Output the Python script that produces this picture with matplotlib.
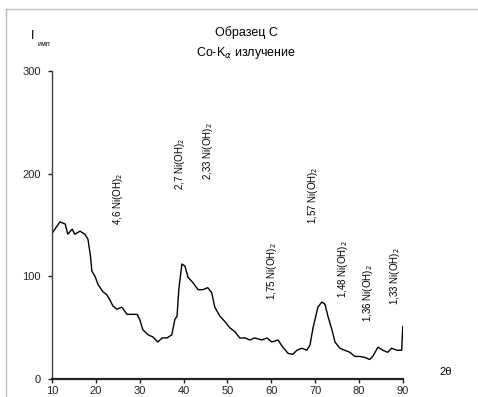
import matplotlib
matplotlib.use("Agg")
import matplotlib.pyplot as plt
from matplotlib.lines import Line2D

plt.rcParams['font.family'] = ['Liberation Sans', 'DejaVu Sans']

two_theta = [10.2, 11.8, 13.0, 13.6, 14.6, 15.2, 16.4, 17.5, 18.2, 18.7, 19.1, 19.8,
             20.5, 21.6, 22.5, 23.2, 23.9, 24.8, 25.9, 27.1, 28.2, 29.4, 30.0, 30.7,
             31.9, 33.0, 34.1, 35.1, 36.2, 37.3, 38.0, 38.5, 38.9, 39.6, 40.3, 41.0,
             42.1, 43.3, 44.4, 45.5, 46.4, 47.1, 48.3, 49.4, 50.5, 51.7, 52.8, 54.0,
             55.1, 56.2, 57.8, 59.0, 60.1, 61.5, 62.6, 63.8, 64.9, 65.8, 66.9, 68.1,
             68.8, 69.5, 70.6, 71.5, 72.2, 72.9, 73.8, 74.5, 75.6, 76.7, 77.9, 79.0,
             80.2, 81.3, 82.4, 83.1, 84.3, 85.4, 86.5, 87.4, 88.6, 89.7, 89.95]
intensity = [143, 153, 151, 141, 146, 141, 144, 141, 136, 122, 105, 100,
             92, 85, 82, 77, 71, 68, 70, 63, 63, 63, 58, 48,
             43, 41, 36, 40, 40, 43, 58, 61, 87, 112, 110, 99,
             94, 87, 87, 89, 84, 70, 61, 56, 50, 46, 40, 40,
             38, 40, 38, 40, 36, 38, 31, 25, 24, 28, 30, 28,
             33, 50, 70, 75, 73, 61, 48, 36, 30, 28, 26, 22,
             22, 21, 19, 22, 31, 28, 26, 30, 28, 28, 51]

peak_labels = ["4,6", "2,7", "2,33", "1,57", "1,75", "1,48", "1,36", "1,33"]
peak_x = [25.0, 39.2, 45.5, 69.5, 60.1, 76.3, 82.0, 88.1]
peak_y = [175, 210, 222, 179, 105, 107, 84, 100]

xticks = [10, 20, 30, 40, 50, 60, 70, 80, 90]
yticks = [0, 100, 200, 300]

fig = plt.figure(figsize=(4.78, 3.97), dpi=100)
ax = fig.add_axes([52/478, 1 - 379/397, 351/478, 308/397])

ax.plot(two_theta, intensity, color='black', lw=1.0)

for lab, x, y in zip(peak_labels, peak_x, peak_y):
    ax.text(x, y, lab + " Ni(OH)$_2$", rotation=90, ha='center', va='center',
            fontsize=7, color='black')

ax.set_xlim(10, 90)
ax.set_ylim(0, 300)
ax.set_xticks(xticks)
ax.set_yticks(yticks)
ax.tick_params(axis='both', labelsize=8, colors='#222222', length=3, width=1)
ax.tick_params(axis='y', pad=5)
ax.tick_params(axis='x', pad=2)
for s in ['top', 'right']:
    ax.spines[s].set_visible(False)
ax.spines['left'].set_color('#444444')
ax.spines['left'].set_linewidth(1.0)
ax.spines['bottom'].set_color('#222222')
ax.spines['bottom'].set_linewidth(1.6)

fig.text(246/478, 1 - 33/397, "Образец C", ha='center', va='center', fontsize=9)
fig.text(246/478, 1 - 53/397, "Co-K$_\\alpha$ излучение", ha='center', va='center', fontsize=9)
fig.text(33/478, 1 - 36/397, "I", ha='center', va='center', fontsize=9)
fig.text(38/478, 1 - 45/397, "имп", ha='left', va='center', fontsize=5)
fig.text(446/478, 1 - 372/397, "2θ", ha='center', va='center', fontsize=8)

# light frame
fig.add_artist(Line2D([6/478, 1], [1 - 9/397, 1 - 9/397], transform=fig.transFigure,
                      color='#bbbbbb', lw=1))
fig.add_artist(Line2D([6/478, 6/478], [0, 1 - 9/397], transform=fig.transFigure,
                      color='#bbbbbb', lw=1))

fig.savefig("out.png", dpi=100)
